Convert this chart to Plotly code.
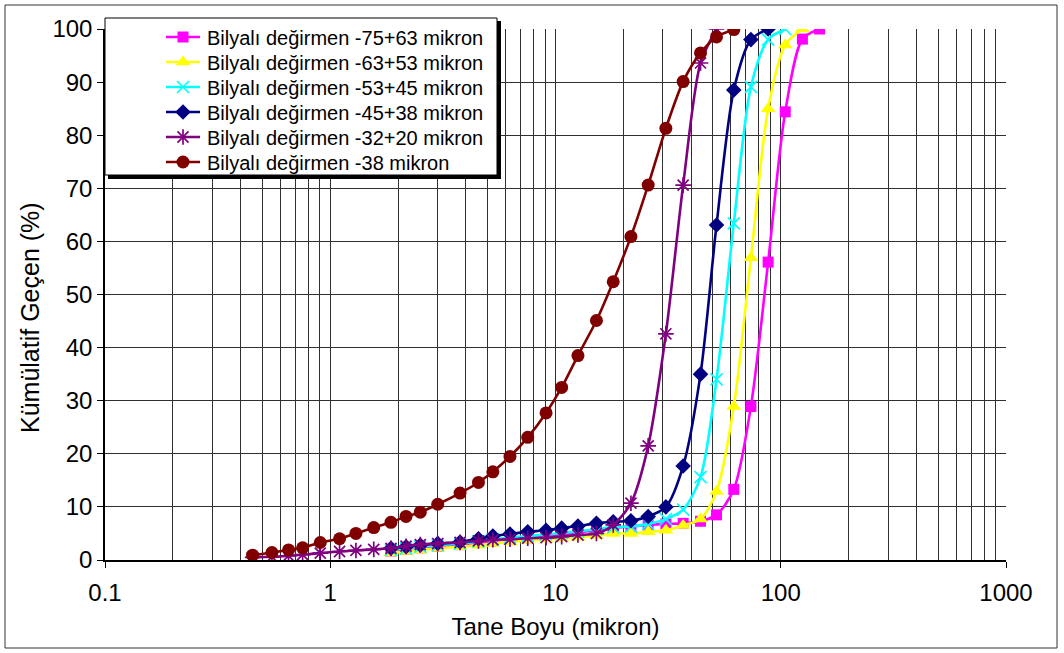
import plotly.graph_objects as go

# ---------------- data ----------------
sizes = [0.452, 0.551, 0.653, 0.754, 0.903, 1.10, 1.30, 1.56, 1.86, 2.17, 2.51, 3.00,
         3.77, 4.55, 5.27, 6.28, 7.53, 9.08, 10.65, 12.58, 15.2, 18.04, 21.62, 25.79,
         30.9, 36.87, 44.04, 51.87, 61.88, 73.7, 87.9, 104.7, 124.8, 148.7]

names = ["Bilyalı değirmen -75+63 mikron", "Bilyalı değirmen -63+53 mikron",
         "Bilyalı değirmen -53+45 mikron", "Bilyalı değirmen -45+38 mikron",
         "Bilyalı değirmen -32+20 mikron", "Bilyalı değirmen -38 mikron"]

x_75_63 = sizes[8:34]
y_75_63 = [1.7, 2.0, 2.3, 2.6, 2.9, 3.3, 3.6, 3.9, 4.2, 4.5, 4.8, 5.2, 5.6, 6.0, 6.3, 6.6, 6.8,
           6.9, 7.3, 8.5, 13.3, 28.9, 56.1, 84.4, 98.1, 100.0]

x_63_53 = sizes[8:33]
y_63_53 = [1.3, 1.6, 1.9, 2.2, 2.5, 2.8, 3.1, 3.4, 3.7, 3.9, 4.1, 4.3, 4.6, 5.0, 5.0, 5.3, 5.6,
           6.5, 7.7, 12.9, 28.9, 56.9, 85.0, 97.0, 100.0]

x_53_45 = sizes[8:32]
y_53_45 = [1.9, 2.2, 2.5, 2.8, 3.1, 3.5, 3.9, 4.2, 4.5, 4.8, 5.1, 5.4, 5.8, 6.2, 6.3, 6.8, 7.7,
           9.5, 15.6, 34.0, 63.4, 89.1, 98.0, 100.0]

x_45_38 = sizes[8:31]
y_45_38 = [2.2, 2.5, 2.8, 3.1, 3.4, 4.0, 4.5, 4.9, 5.3, 5.6, 6.0, 6.4, 6.9, 7.2, 7.4, 8.2, 10.0,
           17.7, 35.0, 63.1, 88.5, 98.0, 100.0]

x_32_20 = sizes[0:28]
y_32_20 = [0.5, 0.6, 0.8, 1.0, 1.3, 1.6, 1.8, 2.0, 2.2, 2.6, 2.9, 3.1, 3.3, 3.6, 3.8, 3.9,
           4.1, 4.2, 4.4, 4.7, 5.0, 6.6, 10.7, 21.5, 42.6, 70.6, 93.6, 100.0]

x_38 = sizes[0:29]
y_38 = [0.9, 1.4, 1.9, 2.3, 3.3, 4.0, 5.0, 6.1, 7.1, 8.2, 9.0, 10.5, 12.6, 14.6, 16.6, 19.5,
        23.1, 27.7, 32.5, 38.5, 45.1, 52.4, 60.9, 70.6, 81.3, 90.1, 95.5, 98.5, 99.9]

x_ticks = [0.1, 1, 10, 100, 1000]
x_tick_text = ["0.1", "1", "10", "100", "1000"]
y_ticks = [0, 10, 20, 30, 40, 50, 60, 70, 80, 90, 100]

x_title = "Tane Boyu (mikron)"
y_title = "Kümülatif Geçen (%)"

# ---------------- styles ----------------
series = [
    (x_75_63, y_75_63, "#FF00FF", "square", 11),
    (x_63_53, y_63_53, "#FFFF00", "triangle-up", 13),
    (x_53_45, y_53_45, "#00FFFF", "x-thin-open", 12),
    (x_45_38, y_45_38, "#000080", "diamond", 12),
    (x_32_20, y_32_20, "#800080", "asterisk-open", 13),
    (x_38, y_38, "#800000", "circle", 13),
]

FONT = "Liberation Sans, Arial, sans-serif"
L, R, T, B = 105, 1006, 29, 560   # plot area in pixels

fig = go.Figure()


def marker_style(col, sym, ms):
    open_sym = sym.endswith("open")
    return dict(symbol=sym, size=ms, color=col,
                line=dict(color=col, width=1.7 if open_sym else 0))


for (xs, ys, col, sym, ms), nm in zip(series, names):
    fig.add_trace(go.Scatter(
        x=xs, y=ys, name=nm, mode="lines+markers", showlegend=False,
        line=dict(color=col, width=2.6, shape="spline", smoothing=0.8),
        marker=marker_style(col, sym, ms),
    ))

# ---------- legend drawn on a pixel-scaled overlay axis ----------
BX0, BY0, BX1, BY1 = 105, 18, 497, 175   # legend box (pixels)

# white interior of the legend box (covers the gridlines)
fig.add_trace(go.Scatter(
    x=[BX0, BX1, BX1, BX0, BX0], y=[BY1, BY1, BY0, BY0, BY1], mode="lines",
    fill="toself", fillcolor="white", line=dict(width=0, color="white"),
    xaxis="x2", yaxis="y2", showlegend=False, hoverinfo="skip",
))

row_y = [37, 62, 87, 112, 137, 162]
for (xs, ys, col, sym, ms), nm, ry in zip(series, names, row_y):
    fig.add_trace(go.Scatter(
        x=[166, 200], y=[ry, ry], mode="lines", xaxis="x2", yaxis="y2",
        line=dict(color=col, width=2.6), showlegend=False, hoverinfo="skip",
    ))
    fig.add_trace(go.Scatter(
        x=[183], y=[ry], mode="markers", xaxis="x2", yaxis="y2",
        marker=marker_style(col, sym, ms), showlegend=False, hoverinfo="skip",
        cliponaxis=False, name=nm,
    ))
    fig.add_annotation(x=205, y=ry + 0.5, xref="x2", yref="y2", text=nm, showarrow=False,
                       xanchor="left", yanchor="middle",
                       font=dict(family=FONT, size=20, color="black"))


def dom(px, py):
    return (px - L) / (R - L), (B - py) / (B - T)


def rect_px(x0p, y0p, x1p, y1p, **kw):
    a0, b1 = dom(x0p, y0p)
    a1, b0 = dom(x1p, y1p)
    fig.add_shape(type="rect", xref="x domain", yref="y domain",
                  x0=a0, y0=b0, x1=a1, y1=b1, layer="above", **kw)


# legend border and drop shadow
rect_px(BX0, BY0, BX1, BY1, line=dict(color="black", width=1), fillcolor="rgba(0,0,0,0)")
rect_px(BX1, BY0 + 3, BX1 + 4, BY1 + 4, line=dict(width=0), fillcolor="black")
rect_px(BX0 + 3, BY1, BX1 + 4, BY1 + 4, line=dict(width=0), fillcolor="black")

# y-axis title (centred on the chart area, as in the original)
tx, ty = dom(30, 318)
fig.add_annotation(x=tx, y=ty, xref="paper", yref="paper", text=y_title, textangle=-90,
                   showarrow=False, xanchor="center", yanchor="middle",
                   font=dict(family=FONT, size=25, color="black"))

minor_vals = [m * 10 ** e for e in range(-1, 3) for m in range(2, 10)]

fig.update_layout(
    width=1064, height=653,
    margin=dict(l=L, r=1064 - R, t=T, b=653 - B),
    paper_bgcolor="white", plot_bgcolor="white",
    font=dict(family=FONT, color="black", size=24),
    showlegend=False,
    xaxis=dict(
        type="log", range=[-1, 3],
        tickmode="array", tickvals=x_ticks, ticktext=x_tick_text,
        ticks="outside", ticklen=6, tickcolor="black", ticklabelstandoff=4,
        showgrid=True, gridcolor="#303030", gridwidth=1,
        minor=dict(tickvals=minor_vals, showgrid=True, gridcolor="#303030",
                   gridwidth=1, ticks=""),
        showline=True, linecolor="black", linewidth=1.5,
        tickfont=dict(size=24),
        title=dict(text=x_title, font=dict(size=24), standoff=14),
        zeroline=False,
    ),
    yaxis=dict(
        range=[0, 100], tickmode="array", tickvals=y_ticks,
        ticks="outside", ticklen=6, tickcolor="black",
        showgrid=True, gridcolor="#303030", gridwidth=1,
        showline=True, linecolor="black", linewidth=1.5,
        tickfont=dict(size=24),
        zeroline=False,
    ),
    xaxis2=dict(overlaying="x", range=[L, R], visible=False),
    yaxis2=dict(overlaying="y", range=[B, T], visible=False),
)

# outer chart frame
x0, y1 = dom(5, 5)
x1, y0 = dom(1057, 648)
fig.add_shape(type="rect", xref="paper", yref="paper", x0=x0, y0=y0, x1=x1, y1=y1,
              line=dict(color="#333333", width=1), fillcolor="rgba(0,0,0,0)", layer="below")

fig.write_html("out.html")
